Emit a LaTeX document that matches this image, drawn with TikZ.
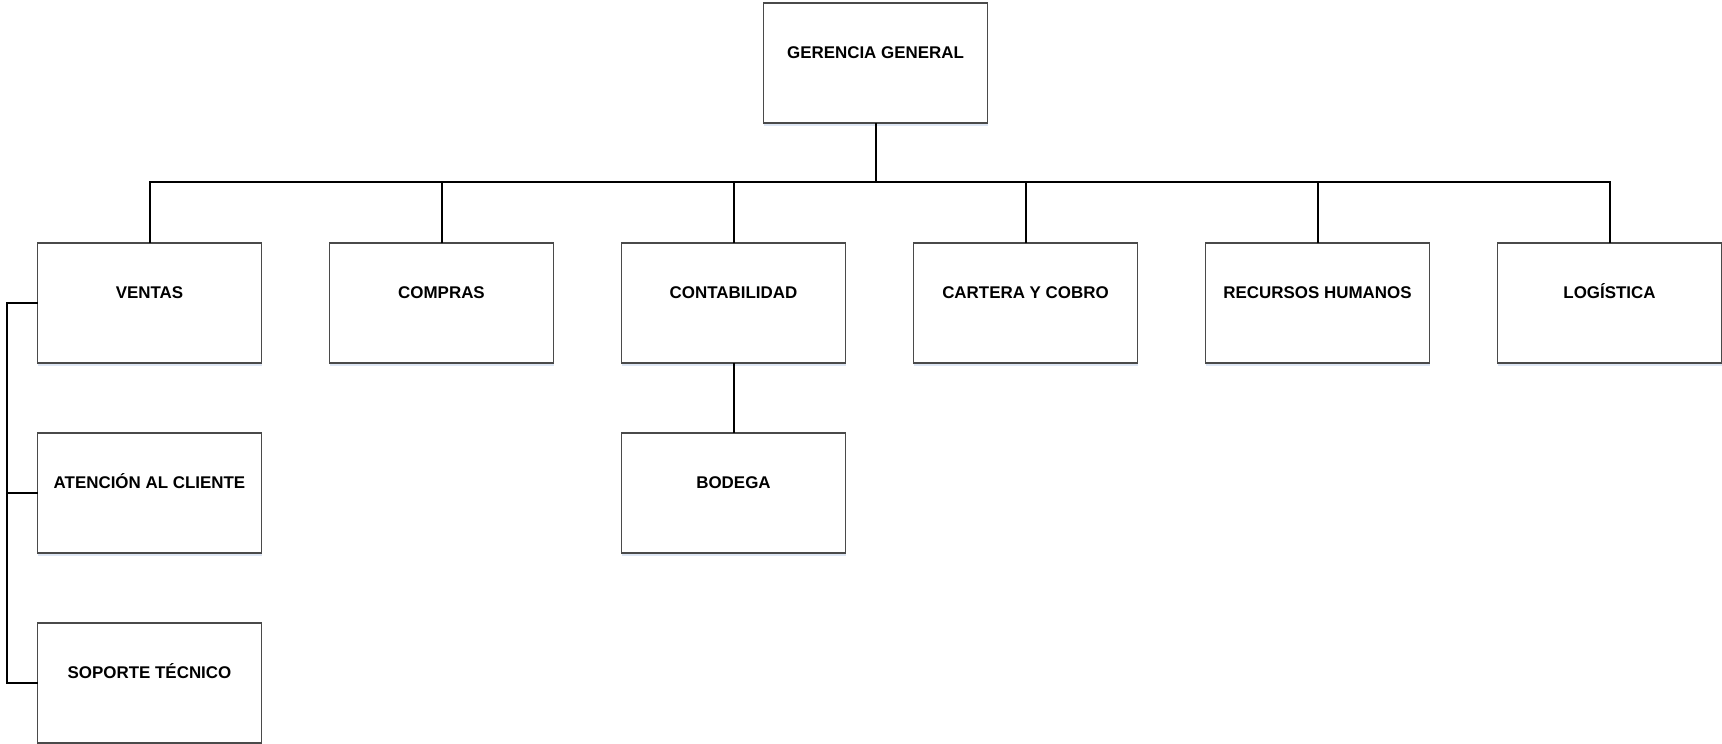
\documentclass[tikz,border=0pt]{standalone}
\usepackage{fontspec}
\setmainfont{Liberation Sans}
\usetikzlibrary{shadows}
\definecolor{boxborder}{HTML}{4A4A4A}
\definecolor{shadowblue}{HTML}{C6D6EC}
\begin{document}
\begin{tikzpicture}[x=0.75pt,y=-0.75pt,
  orgbox/.style={draw=boxborder, line width=0.8pt, fill=white, rectangle,
    minimum width=168pt, minimum height=90pt, inner sep=0pt, outer sep=0pt,
    text height=9.1pt, text depth=15.5pt,
    font=\fontsize{12.7pt}{15pt}\selectfont\bfseries,
    drop shadow={shadow xshift=0.6pt, shadow yshift=-2.2pt, fill=shadowblue, opacity=0.6}},
  conn/.style={draw=black, line width=1.5pt}]
\useasboundingbox (0,0) rectangle (1722,743);
\node[orgbox] (ger) at (875.5,63) {GERENCIA GENERAL};
\node[orgbox] (ven) at (149.5,303) {VENTAS};
\node[orgbox] (com) at (441.5,303) {COMPRAS};
\node[orgbox] (con) at (733.5,303) {CONTABILIDAD};
\node[orgbox] (car) at (1025.5,303) {CARTERA Y COBRO};
\node[orgbox] (rrh) at (1317.5,303) {RECURSOS HUMANOS};
\node[orgbox] (log) at (1609.5,303) {LOGÍSTICA};
\node[orgbox] (ate) at (149.5,493) {ATENCIÓN AL CLIENTE};
\node[orgbox] (bod) at (733.5,493) {BODEGA};
\node[orgbox] (sop) at (149.5,683) {SOPORTE TÉCNICO};
\coordinate (bus) at (875.5,182);
\coordinate (lx) at (7,0);
\draw[conn] (ger.south) -- (bus);
\foreach \n in {ven,com,con,car,rrh,log}{
  \draw[conn] (\n.north) |- (bus);
}
\draw[conn] (con.south) -- (bod.north);
\draw[conn] (ven.west) -- (ven.west -| lx) -- (sop.west -| lx) -- (sop.west);
\draw[conn] (ate.west) -- (ate.west -| lx);
\end{tikzpicture}
\end{document}
